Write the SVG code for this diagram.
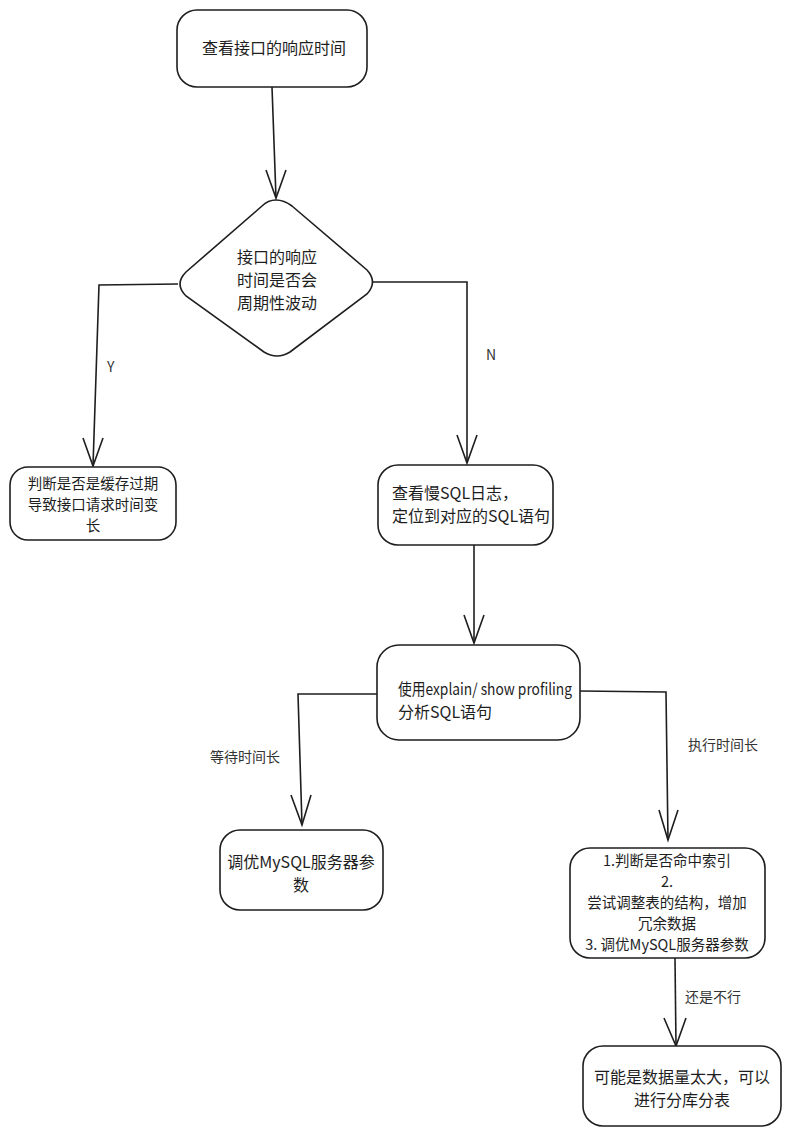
<svg xmlns="http://www.w3.org/2000/svg" width="791" height="1136" viewBox="0 0 791 1136">
<style>
.n{fill:#fff;stroke:#1e1e1e;stroke-width:1.6}
.t{font-family:"Noto Sans CJK SC","Liberation Sans",sans-serif;font-size:16px;fill:#1e1e1e}
.s{font-size:14.5px}
.c{text-anchor:middle}
.l{font-family:"Noto Sans CJK SC","Liberation Sans",sans-serif;font-size:14px;fill:#333}
.e{fill:none;stroke:#1e1e1e;stroke-width:1.6}
</style>
<rect width="791" height="1136" fill="#fff"/>
<g id="connectors">
<path class="e" d="M272,87 L276,198"/>
<path class="e" d="M266,170 L276,198 L286,170"/>
<path class="e" d="M178,284 L99,285 L93,466"/>
<path class="e" d="M83,438 L93,466 L103,438"/>
<path class="e" d="M373,282 L467,282 L467,463"/>
<path class="e" d="M457,435 L467,463 L477,435"/>
<path class="e" d="M474,545 L474,643"/>
<path class="e" d="M464,615 L474,643 L484,615"/>
<path class="e" d="M377,694 L298,694 L302,825"/>
<path class="e" d="M291,795 L302,825 L311,795"/>
<path class="e" d="M580,691 L666,692 L668,840"/>
<path class="e" d="M659,810 L668,840 L678,810"/>
<path class="e" d="M675,958 L676,1046"/>
<path class="e" d="M664,1018 L676,1046 L686,1018"/>
<text class="l" x="107" y="372">Y</text>
<text class="l" x="486" y="360">N</text>
<text class="l" x="210" y="762">等待时间长</text>
<text class="l" x="688" y="750">执行时间长</text>
<text class="l" x="685" y="1002">还是不行</text>
</g>
<g id="n1">
<rect class="n" x="177" y="10" width="190" height="77" rx="20"/>
<text class="t c" x="274" y="54">查看接口的响应时间</text>
</g>
<g id="n2">
<path class="n" d="M276,200 Q284,200 292,206 L367,270 Q378,282 367,294 L290,352 Q277,360 264,352 L186,296 Q174,284 186,272 L262,206 Q268,200 276,200 Z"/>
<text class="t c" x="277" y="263">接口的响应</text>
<text class="t c" x="277" y="286">时间是否会</text>
<text class="t c" x="277" y="309">周期性波动</text>
</g>
<g id="n3">
<rect class="n" x="10" y="467" width="166" height="73" rx="18"/>
<text class="t s c" x="93" y="489">判断是否是缓存过期</text>
<text class="t s c" x="93" y="510">导致接口请求时间变</text>
<text class="t s c" x="93" y="531">长</text>
</g>
<g id="n4">
<rect class="n" x="378" y="465" width="175" height="80" rx="20"/>
<text class="t" x="392" y="499">查看慢SQL日志，</text>
<text class="t" x="392" y="522">定位到对应的SQL语句</text>
</g>
<g id="n5">
<rect class="n" x="377" y="645" width="203" height="95" rx="22"/>
<text class="t" x="398" y="695" textLength="174" lengthAdjust="spacingAndGlyphs">使用explain/ show profiling</text>
<text class="t" x="398" y="718">分析SQL语句</text>
</g>
<g id="n6">
<rect class="n" x="220" y="830" width="163" height="80" rx="20"/>
<text class="t c" x="301" y="868">调优MySQL服务器参</text>
<text class="t c" x="301" y="891">数</text>
</g>
<g id="n7">
<rect class="n" x="570" y="848" width="195" height="110" rx="20"/>
<text class="t s c" x="667" y="866">1.判断是否命中索引</text>
<text class="t s c" x="667" y="887">2.</text>
<text class="t s c" x="667" y="908">尝试调整表的结构，增加</text>
<text class="t s c" x="667" y="929">冗余数据</text>
<text class="t s c" x="667" y="950">3. 调优MySQL服务器参数</text>
</g>
<g id="n8">
<rect class="n" x="583" y="1046" width="198" height="80" rx="20"/>
<text class="t c" x="682" y="1083">可能是数据量太大，可以</text>
<text class="t c" x="682" y="1106">进行分库分表</text>
</g>
</svg>
